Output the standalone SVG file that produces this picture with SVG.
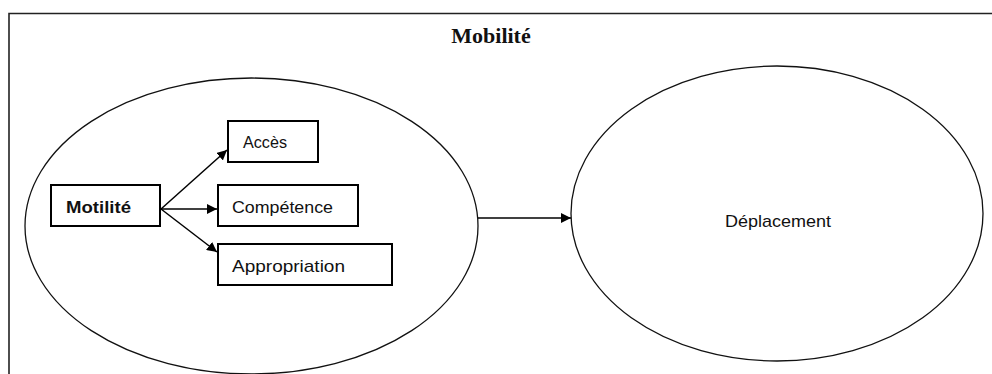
<svg xmlns="http://www.w3.org/2000/svg" width="992" height="374" viewBox="0 0 992 374">
<style>
.frame{fill:none;stroke:#222;stroke-width:1.6}
.ell{fill:none;stroke:#111;stroke-width:1.3}
.box{fill:#fff;stroke:#000;stroke-width:2}
.lbl{font-family:"Liberation Sans",Arial,sans-serif;font-size:17px;fill:#111}
.bold{font-weight:bold}
.title{font-family:"Liberation Serif","Times New Roman",serif;font-size:22px;font-weight:bold;fill:#111}
.conn{fill:none;stroke:#000;stroke-width:1.5}
</style>
<defs>
<marker id="arr" viewBox="0 0 10 10" refX="10" refY="5" markerWidth="10" markerHeight="10" markerUnits="userSpaceOnUse" orient="auto">
<path d="M0,0 L10,5 L0,10 z" fill="#000"/>
</marker>
</defs>
<rect width="992" height="374" fill="#fff"/>
<path class="frame" d="M9,374 V13.5 H992"/>
<text class="title" x="491" y="43" text-anchor="middle">Mobilité</text>
<g id="motilite-ellipse"><ellipse class="ell" cx="251.5" cy="226" rx="226.5" ry="148"/></g>
<g id="deplacement"><ellipse class="ell" cx="777" cy="213.5" rx="206" ry="147.5"/>
<text class="lbl" x="778" y="226.5" text-anchor="middle" textLength="106" lengthAdjust="spacingAndGlyphs">Déplacement</text></g>
<g id="motilite"><rect class="box" x="51" y="185" width="109" height="41"/>
<text class="lbl bold" x="66" y="213" textLength="65" lengthAdjust="spacingAndGlyphs">Motilité</text></g>
<g id="acces"><rect class="box" x="228" y="121" width="90" height="41"/>
<text class="lbl" x="243" y="148" textLength="44" lengthAdjust="spacingAndGlyphs">Accès</text></g>
<g id="competence"><rect class="box" x="218" y="185" width="140" height="41" stroke-width="2.6"/>
<text class="lbl" x="232" y="213" textLength="101" lengthAdjust="spacingAndGlyphs">Compétence</text></g>
<g id="appropriation"><rect class="box" x="218" y="244" width="174" height="41"/>
<text class="lbl" x="232" y="271.5" textLength="113" lengthAdjust="spacingAndGlyphs">Appropriation</text></g>
<g id="connectors">
<line class="conn" x1="161" y1="209" x2="227" y2="150" marker-end="url(#arr)"/>
<line class="conn" x1="161" y1="209" x2="217" y2="209" marker-end="url(#arr)"/>
<line class="conn" x1="161" y1="209" x2="217" y2="252" marker-end="url(#arr)"/>
<line class="conn" x1="478" y1="218" x2="571" y2="218" marker-end="url(#arr)"/>
</g>
</svg>
